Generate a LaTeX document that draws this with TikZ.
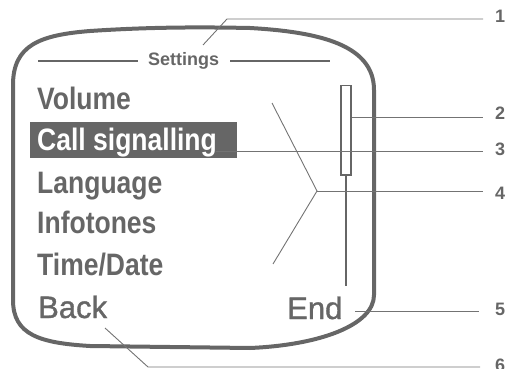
\documentclass[tikz,border=0pt]{standalone}
\usepackage{fontspec}
\setmainfont{Liberation Sans}
\newfontfamily\menufont{Liberation Sans}[FakeStretch=0.855]
\newfontfamily\softfont{Liberation Sans}[FakeBold=1.2]
\definecolor{fg}{HTML}{666666}
\definecolor{ln}{HTML}{737373}
\begin{document}
\begin{tikzpicture}[x=1pt,y=-1pt,
  menu/.style={font=\menufont\fontsize{31}{31}\selectfont\bfseries, text=fg, inner sep=0, anchor=base west},
  soft/.style={font=\softfont\fontsize{31}{31}\selectfont, text=fg, inner sep=0, anchor=base west},
  num/.style={font=\fontsize{18}{18}\selectfont\bfseries, text=fg, inner sep=0, anchor=base west},
  callout/.style={draw=ln, line width=0.9pt},
  rim/.style={draw=fg, line width=4pt, line join=round},
  rule/.style={draw=fg, line width=1.8pt}]
\useasboundingbox (0,0) rectangle (509,369);
% display frame
\draw[rim] (13,85) .. controls (13,45) and (40,35) .. (90,31)
  .. controls (150,27) and (200,27) .. (250,28)
  .. controls (320,32) and (374,45) .. (374,90)
  -- (374,295)
  .. controls (374,325) and (320,345) .. (250,348)
  -- (90,346)
  .. controls (40,343) and (13,335) .. (13,300) -- cycle;
% title
\node[font=\fontsize{18}{18}\selectfont\bfseries, text=fg, inner sep=0, anchor=base west] (set) at (148,66) {Settings};
\draw[rule] (38,61) -- (138,61);
\draw[rule] (230,61) -- (330,61);
% highlight bar
\fill[fg] (30,122) rectangle (237,158);
% menu items
\node[menu] (vol) at (37,110) {Volume};
\node[menu, text=white] (call) at (37,150) {Call signalling};
\node[menu] (lang) at (37,193) {Language};
\node[menu] (info) at (37,233) {Infotones};
\node[menu] (time) at (37,275) {Time/Date};
\node[soft] (back) at (38,318) {Back};
\node[soft] (end) at (287,319) {End};
% scrollbar
\node[draw=fg, line width=1.5pt, minimum width=10pt, minimum height=89pt, inner sep=0, anchor=north west] (sb) at (340,85) {};
\draw[draw=fg, line width=1.5pt] (sb.south) -- ++(0,110);
% labels
\node[num] (n1) at (495,23) {1};
\node[num] (n2) at (495,120) {2};
\node[num] (n3) at (495,155) {3};
\node[num] (n4) at (495,199) {4};
\node[num] (n5) at (495,315) {5};
\node[num] (n6) at (495,371) {6};
% callout points
\coordinate (c1a) at (203,45);
\coordinate (c1b) at (227,19);
\coordinate (y2) at (0,117);
\coordinate (a4) at (272,103);
\coordinate (j4) at (317,191);
\coordinate (b4) at (273,264);
\coordinate (c5) at (355,311);
\coordinate (c6a) at (105,328);
\coordinate (c6b) at (148,367);
% callouts
\draw[callout] (c1a) -- (c1b) -- ([xshift=-12pt]n1.west |- c1b);
\draw[callout] (sb.east |- y2) -- ([xshift=-12pt]n2.west |- y2);
\draw[callout] ([xshift=-1pt,yshift=-1pt]call.base east) -- ([xshift=-12pt,yshift=-1pt]n3.west |- call.base);
\draw[callout] (a4) -- (j4) -- (b4);
\draw[callout] (j4) -- ([xshift=-12pt]n4.west |- j4);
\draw[callout] (c5) -- ([xshift=-16pt]n5.west |- c5);
\draw[callout] (c6a) -- (c6b) -- ([xshift=-15pt]n6.west |- c6b);
\end{tikzpicture}
\end{document}
